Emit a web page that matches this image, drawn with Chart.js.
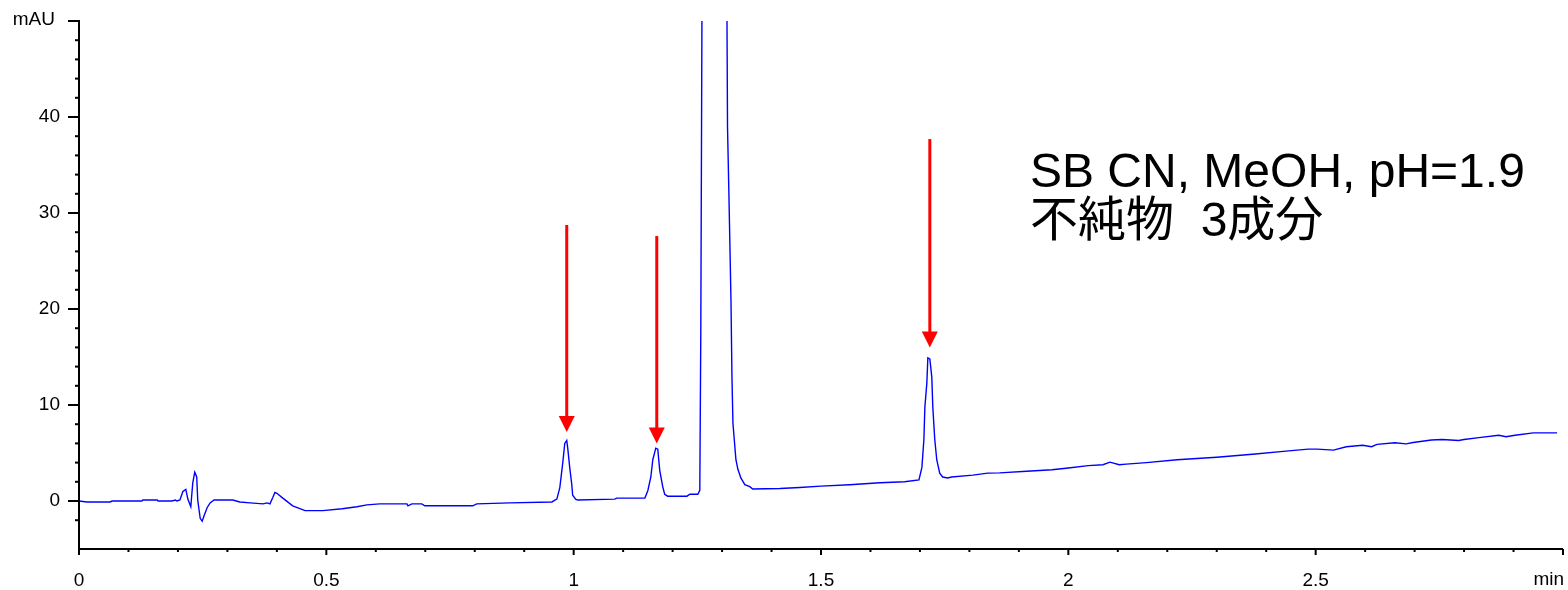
<!DOCTYPE html>
<html lang="ja">
<head>
    <meta charset="UTF-8">
    <title>Chromatogram SB CN</title>
    <script src="https://cdn.jsdelivr.net/npm/chart.js"></script>
    <style>
        body {
            margin: 0;
            background-color: #ffffff;
        }
        #chart-container {
            width: 1568px;
            height: 590px;
        }
    </style>
</head>
<body>
    <div id="chart-container">
        <canvas id="chromChart"></canvas>
    </div>

    <script>
        // retention time (min) and absorbance (mAU)
        const timeMin = [
            0.000, 0.016, 0.063, 0.067, 0.127, 0.129, 0.158, 0.160, 0.188, 0.195,
            0.198, 0.204, 0.210, 0.216, 0.220, 0.226, 0.230, 0.234, 0.238, 0.240,
            0.245, 0.249, 0.253, 0.259, 0.265, 0.273, 0.311, 0.325, 0.346, 0.372,
            0.380, 0.386, 0.392, 0.396, 0.400, 0.412, 0.432, 0.457, 0.493, 0.532,
            0.562, 0.582, 0.608, 0.663, 0.665, 0.673, 0.693, 0.699, 0.796, 0.804,
            0.871, 0.956, 0.962, 0.966, 0.972, 0.978, 0.982, 0.986, 0.988, 0.992,
            0.996, 0.998, 1.004, 1.008, 1.083, 1.087, 1.144, 1.150, 1.156, 1.160,
            1.166, 1.170, 1.174, 1.180, 1.184, 1.190, 1.229, 1.235, 1.251, 1.255,
            1.257, 1.260, 1.275, 1.295, 1.309, 1.311, 1.314, 1.318, 1.320, 1.322,
            1.328, 1.332, 1.338, 1.346, 1.356, 1.362, 1.417, 1.457, 1.500, 1.558,
            1.619, 1.669, 1.698, 1.704, 1.708, 1.710, 1.714, 1.716, 1.720, 1.724,
            1.726, 1.730, 1.734, 1.740, 1.746, 1.756, 1.764, 1.807, 1.837, 1.861,
            1.916, 1.967, 2.000, 2.040, 2.070, 2.084, 2.103, 2.117, 2.158, 2.220,
            2.300, 2.378, 2.440, 2.485, 2.503, 2.536, 2.562, 2.595, 2.613, 2.624,
            2.660, 2.683, 2.697, 2.734, 2.756, 2.789, 2.800, 2.830, 2.870, 2.885,
            2.903, 2.940, 2.988
        ];
        const absorbance = [
            0.0, -0.1, -0.1, 0.0, 0.0, 0.1, 0.1, 0.0, 0.0, 0.1,
            0.0, 0.1, 1.0, 1.2, 0.2, -0.6, 1.9, 3.0, 2.5, 0.1,
            -1.8, -2.1, -1.5, -0.7, -0.2, 0.1, 0.1, -0.1, -0.2, -0.3,
            -0.2, -0.3, 0.4, 0.9, 0.8, 0.3, -0.5, -1.0, -1.0, -0.8,
            -0.6, -0.4, -0.3, -0.3, -0.5, -0.3, -0.3, -0.5, -0.5, -0.3,
            -0.2, -0.1, 0.1, 0.2, 1.4, 4.0, 6.0, 6.3, 5.5, 3.5,
            1.8, 0.6, 0.2, 0.1, 0.2, 0.3, 0.3, 1.1, 2.5, 4.3,
            5.5, 5.4, 3.2, 1.5, 0.7, 0.5, 0.5, 0.7, 0.7, 1.1,
            17.6, 60, 300, 300, 60, 39, 31.5, 21, 12.9, 8.1,
            4.3, 3.3, 2.4, 1.7, 1.5, 1.25, 1.3, 1.4, 1.55, 1.7,
            1.9, 2.0, 2.2, 3.5, 6.4, 9.8, 12.3, 14.9, 14.8, 12.9,
            9.8, 6.4, 4.3, 2.9, 2.5, 2.4, 2.5, 2.7, 2.9, 2.93,
            3.1, 3.26, 3.44, 3.68, 3.78, 4.05, 3.78, 3.84, 4.0, 4.3,
            4.56, 4.9, 5.2, 5.4, 5.4, 5.3, 5.65, 5.8, 5.65, 5.9,
            6.06, 5.95, 6.1, 6.35, 6.4, 6.3, 6.4, 6.6, 6.85, 6.7,
            6.85, 7.1, 7.1
        ];

        // red arrows pointing at the three impurity peaks
        const arrowTime = [0.986, 1.168, 1.720];
        const arrowFrom = [28.75, 27.6, 37.7];
        const arrowTo = [7.2, 6.0, 16.0];

        const noteLines = ['SB CN, MeOH, pH=1.9', '不純物  3成分'];
        const yUnit = 'mAU';
        const xUnit = 'min';

        const latin = '"Liberation Sans", Arial, sans-serif';

        const chromPlugin = {
            id: 'chrom',
            afterDraw(chart) {
                const ctx = chart.ctx;
                const a = chart.chartArea;
                const x = chart.scales.x;
                const y = chart.scales.y;
                ctx.save();

                // axis lines
                ctx.strokeStyle = '#000';
                ctx.lineWidth = 2;
                ctx.beginPath();
                ctx.moveTo(a.left, a.top - 1);
                ctx.lineTo(a.left, a.bottom);
                ctx.lineTo(a.right, a.bottom);
                ctx.stroke();

                // y ticks: long every 10, short every 2
                y.ticks.forEach(t => {
                    const v = Math.round(t.value * 1000) / 1000;
                    if (v % 2 !== 0) return;
                    const py = y.getPixelForValue(v);
                    const len = v % 10 === 0 ? 11 : 4;
                    ctx.beginPath();
                    ctx.moveTo(a.left - len, py);
                    ctx.lineTo(a.left, py);
                    ctx.stroke();
                });

                // x ticks: long every 0.5, short every 0.1
                x.ticks.forEach(t => {
                    const k = Math.round(t.value * 10);
                    const px = x.getPixelForValue(k / 10);
                    const len = k % 5 === 0 ? 6 : 3;
                    ctx.beginPath();
                    ctx.moveTo(px, a.bottom);
                    ctx.lineTo(px, a.bottom + len);
                    ctx.stroke();
                });

                // axis unit labels
                ctx.fillStyle = '#000';
                ctx.font = '19px ' + latin;
                ctx.textBaseline = 'middle';
                ctx.textAlign = 'right';
                ctx.fillText(yUnit, a.left - 24, a.top - 1);
                ctx.fillText(xUnit, a.right + 1, a.bottom + 31);

                // arrows
                ctx.strokeStyle = '#ff0000';
                ctx.fillStyle = '#ff0000';
                ctx.lineWidth = 3;
                arrowTime.forEach((t, i) => {
                    const px = x.getPixelForValue(t);
                    const top = y.getPixelForValue(arrowFrom[i]);
                    const tip = y.getPixelForValue(arrowTo[i]);
                    ctx.beginPath();
                    ctx.moveTo(px, top);
                    ctx.lineTo(px, tip - 14);
                    ctx.stroke();
                    ctx.beginPath();
                    ctx.moveTo(px - 8, tip - 16);
                    ctx.lineTo(px + 8, tip - 16);
                    ctx.lineTo(px, tip);
                    ctx.closePath();
                    ctx.fill();
                });

                // note
                ctx.fillStyle = '#000';
                ctx.textAlign = 'left';
                ctx.textBaseline = 'alphabetic';
                ctx.font = '48px ' + '"Liberation Sans", Arial, "Noto Sans CJK JP", sans-serif';
                ctx.fillText(noteLines[0], 1030, 187);
                ctx.fillText(noteLines[1], 1030, 236);

                ctx.restore();
            }
        };

        const points = timeMin.map((t, i) => ({ x: t, y: absorbance[i] }));

        new Chart(document.getElementById('chromChart').getContext('2d'), {
            type: 'line',
            data: {
                datasets: [{
                    data: points,
                    borderColor: '#0000ff',
                    borderWidth: 1.4,
                    pointRadius: 0,
                    tension: 0,
                    fill: false
                }]
            },
            options: {
                responsive: true,
                maintainAspectRatio: false,
                animation: false,
                layout: { padding: { top: 21, right: 5, left: 0, bottom: 0 } },
                plugins: {
                    legend: { display: false },
                    tooltip: { enabled: false }
                },
                scales: {
                    x: {
                        type: 'linear',
                        min: 0,
                        max: 3,
                        grid: { display: false, drawTicks: false },
                        border: { display: false },
                        ticks: {
                            stepSize: 0.1,
                            autoSkip: false,
                            maxRotation: 0,
                            padding: 20,
                            color: '#000',
                            font: { size: 19, family: latin },
                            callback: v => {
                                const k = Math.round(v * 10);
                                return (k % 5 === 0 && k < 30) ? String(k / 10) : '';
                            }
                        },
                        afterFit: s => {
                            s.height = 41;
                            s.paddingLeft = 0;
                            s.paddingRight = 0;
                        }
                    },
                    y: {
                        type: 'linear',
                        min: -5,
                        max: 50,
                        grid: { display: false, drawTicks: false },
                        border: { display: false },
                        ticks: {
                            stepSize: 2,
                            autoSkip: false,
                            padding: 19,
                            color: '#000',
                            font: { size: 19, family: latin },
                            callback: v => (v >= 0 && v < 50 && v % 10 === 0) ? String(v) : ''
                        },
                        afterFit: s => {
                            s.width = 79;
                            s.paddingTop = 0;
                            s.paddingBottom = 0;
                        }
                    }
                }
            },
            plugins: [chromPlugin]
        });
    </script>
</body>
</html>
